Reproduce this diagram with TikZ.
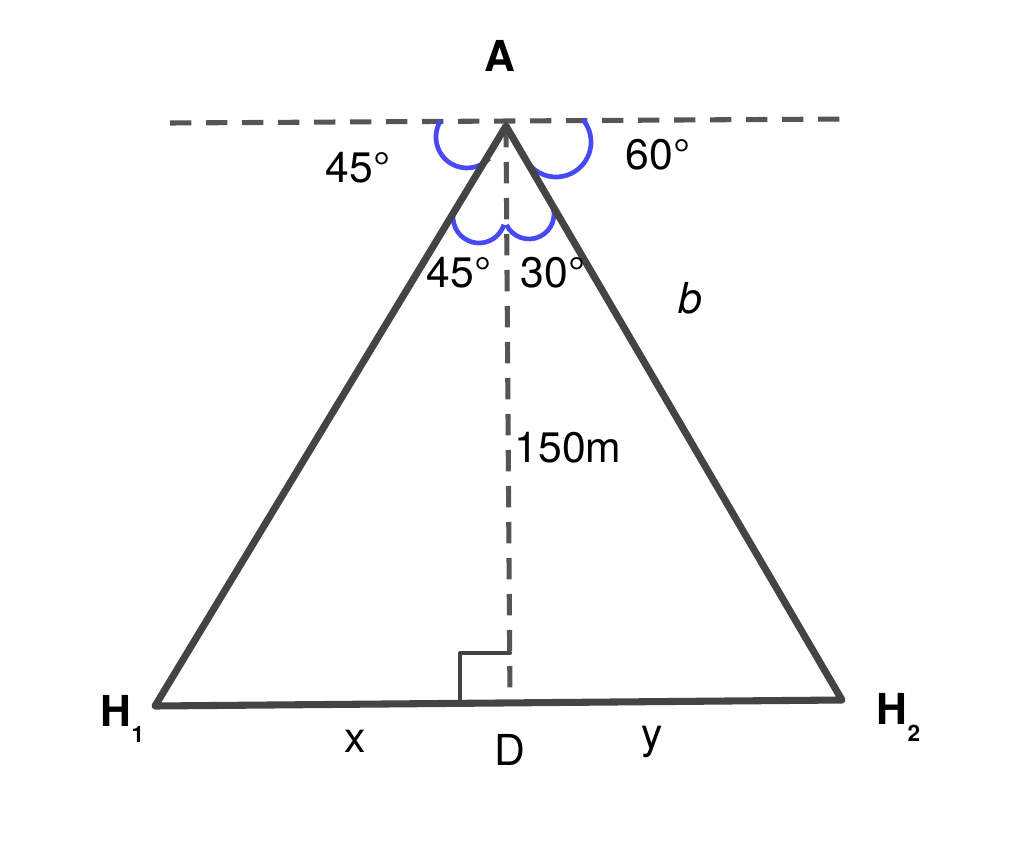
\documentclass[tikz,border=0pt]{standalone}
\usepackage{fontspec}
\setmainfont{TeX Gyre Heros}
\usepackage{tikz}
\usetikzlibrary{calc}

\begin{document}
\begin{tikzpicture}[x=0.75pt,y=0.75pt,yscale=-1,xscale=1,
    side/.style={draw={rgb, 255:red, 68; green, 68; blue, 68 }, line width=5.3pt, line cap=round, line join=round},
    dashline/.style={draw={rgb, 255:red, 85; green, 85; blue, 85 }, line width=3.8pt, dash pattern=on 16pt off 11pt},
    anglearc/.style={draw={rgb, 255:red, 72; green, 72; blue, 245 }, line width=3.5pt},
    rightmark/.style={draw={rgb, 255:red, 68; green, 68; blue, 68 }, line width=3pt, line cap=round, line join=round},
    lbl/.style={font=\fontsize{32}{38}\selectfont, inner sep=0pt}]
    \useasboundingbox (0,0) rectangle (1024,849);
    
    %Points
    \coordinate (A) at (506,126) ;
    \coordinate (H1) at (155,706) ;
    \coordinate (H2) at (842,700) ;
    \coordinate (D) at (510,703) ;
    \coordinate (L) at (170,123) ;
    \coordinate (R) at (848,119) ;
    
    %Dashed Lines
    \draw [dashline]   (L) -- (R) ;
    \draw [dashline]   (A) -- (D) ;
    
    %Angle Arcs
    \draw [anglearc]   (467,137) ++(212:31) arc[start angle=212, end angle=44, radius=31] ;
    \draw [anglearc]   (556,142) ++(-41:35) arc[start angle=-41, end angle=147, radius=35] ;
    \draw [anglearc]   (479,217) ++(200:26) arc[start angle=200, end angle=17, radius=26] ;
    \draw [anglearc]   (529,214) ++(154:25) arc[start angle=154, end angle=-26, radius=25] ;
    
    %Triangle
    \draw [side]   (A) -- (H1) -- (H2) -- cycle ;
    
    %Right Angle
    \draw [rightmark]   (460,704) -- (460,653) -- (510,653) ;
    
    %Labels
    \node [lbl] (lA) at (500,56) {\textbf{A}};
    \node [lbl] (lH1) at (116,711) {\textbf{H}};
    \node [lbl, font=\fontsize{17}{20}\selectfont\bfseries] (lH1s) at (138,734) {1};
    \node [lbl] (lH2) at (892,709) {\textbf{H}};
    \node [lbl, font=\fontsize{17}{20}\selectfont\bfseries] (lH2s) at (914,733) {2};
    \node [lbl] (lang1) at (358,168) {45°};
    \node [lbl] (lang2) at (658,155) {60°};
    \node [lbl] (lang3) at (459,273) {45°};
    \node [lbl] (lang4) at (553,273) {30°};
    \node [lbl] (lb) at (690,298) {\textit{b}};
    \node [lbl] (lh) at (568,448) {150m};
    \node [lbl] (lx) at (355,741) {x};
    \node [lbl] (lD) at (510,750) {D};
    \node [lbl] (ly) at (652,742) {y};
    
\end{tikzpicture}
\end{document}
